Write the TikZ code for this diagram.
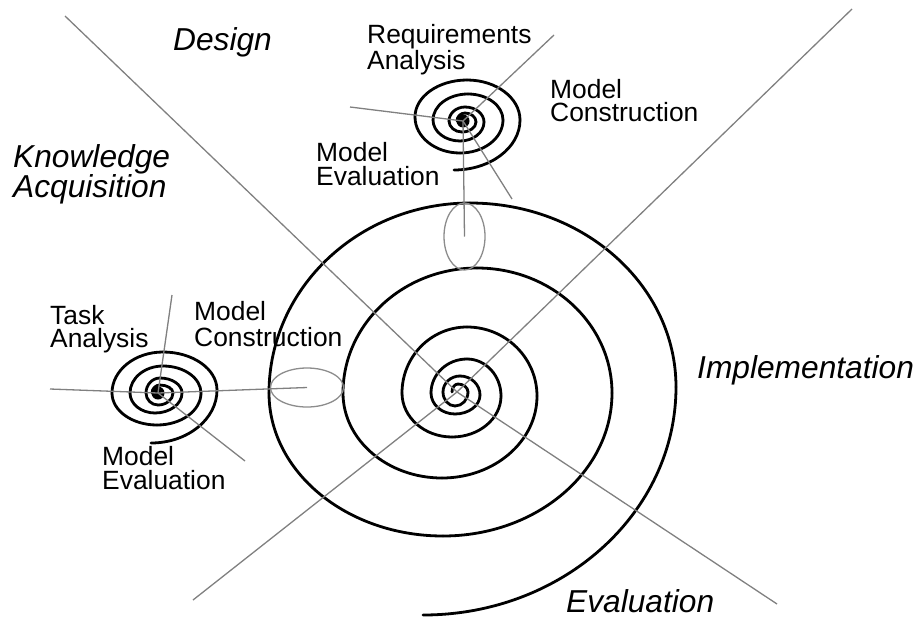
\documentclass[tikz,border=0pt]{standalone}
\usepackage{fontspec}
\setmainfont{Liberation Sans}
\usetikzlibrary{shapes.geometric}
\tikzset{
  coil/.style={draw=black,line width=2.8pt,line cap=round,line join=round},
  ray/.style={draw=black!50,line width=1.3pt},
  loupe/.style={draw=black!45,line width=1.3pt,ellipse,inner sep=0pt},
  hub/.style={circle,fill=black,inner sep=0pt,minimum size=13pt},
  core/.style={circle,inner sep=0pt,minimum size=0pt},
  lab/.style={anchor=base west,inner sep=0pt,align=left,font=\fontsize{26.4}{24}\selectfont},
  phase/.style={anchor=base west,inner sep=0pt,align=left,font=\fontsize{31.7}{30}\selectfont\itshape}
}
\newcommand{\coilpath}[1]{%
  \foreach \cx/\cy [remember=\cx as \px (initially 0), remember=\cy as \py (initially 0), count=\ci] in {#1}{%
    \ifnum\ci>1
      \pgfmathtruncatemacro{\cm}{mod(\ci,2)}%
      \ifnum\cm=0
        \pgfmathsetmacro{\ax}{\px+0.5523*(\cx-\px)}\pgfmathsetmacro{\ay}{\py}%
        \pgfmathsetmacro{\bx}{\cx}\pgfmathsetmacro{\by}{\cy+0.5523*(\py-\cy)}%
      \else
        \pgfmathsetmacro{\ax}{\px}\pgfmathsetmacro{\ay}{\py+0.5523*(\cy-\py)}%
        \pgfmathsetmacro{\bx}{\cx+0.5523*(\px-\cx)}\pgfmathsetmacro{\by}{\cy}%
      \fi
      \draw[coil] (\px,\py) .. controls (\ax,\ay) and (\bx,\by) .. (\cx,\cy);
    \fi
  }%
}
\begin{document}
\begin{tikzpicture}[x=1pt,y=-1pt]
\useasboundingbox (0,0) rectangle (917,616);
% spirals
\coilpath{423/615,676/387,470/203,269/393,443/536,612/393,477/268,343/393,442/478,537/396,467/327,402/393,452/437,501/396,467/359,431/393,455/414,480/395,460/376,443/392,455/406,468/392,458/384,452/392}
\coilpath{454/170,520/120,467/80,415/117,460/153,503/120,468/94,433/120,460/141,484/122,465/107,449/121,462/132,476/122,465/113,457/121}
\coilpath{151/443,217/390,163/352,112/393,157/425,201/393,163/366,130/393,155/413,182/393,160/378,146/393,158/405,173/393,160/385,152/393}
% hubs
\node[core] (c0) at (457,392) {};
\node[hub] (c1) at (463,121) {};
\node[hub] (c2) at (158,393) {};
% magnifier ellipses
\node[loupe,minimum width=41pt,minimum height=67pt] (e1) at (464.5,236.5) {};
\node[loupe,minimum width=73pt,minimum height=39pt] (e2) at (307,387.5) {};
% free ends
\coordinate (m1) at (65,16);
\coordinate (m2) at (852,9);
\coordinate (m3) at (777,604);
\coordinate (m4) at (193,600);
\coordinate (t1) at (350,107);
\coordinate (t2) at (554,35);
\coordinate (t3) at (512,199);
\coordinate (l1) at (50,389);
\coordinate (l2) at (172,295);
\coordinate (l3) at (245,461);
% rays
\draw[ray] (m1) -- (c0.center);
\draw[ray] (m2) -- (c0.center);
\draw[ray] (m3) -- (c0.center);
\draw[ray] (m4) -- (c0.center);
\draw[ray] (t1) -- (c1.center);
\draw[ray] (t2) -- (c1.center);
\draw[ray] (t3) -- (c1.center);
\draw[ray] (e1.center) -- (c1.center);
\draw[ray] (l1) -- (c2.center);
\draw[ray] (l2) -- (c2.center);
\draw[ray] (l3) -- (c2.center);
\draw[ray] (e2.center) -- (c2.center);
% labels
\node[lab] (a1) at (367,69) {Requirements\\Analysis};
\node[lab] (a2) at (550,121) {Model\\[-1.5pt]Construction};
\node[lab] (a3) at (316,185) {Model\\Evaluation};
\node[lab] (a4) at (50,347) {Task\\[-1pt]Analysis};
\node[lab] (a5) at (194,346) {Model\\[1.7pt]Construction};
\node[lab] (a6) at (102,489) {Model\\[-0.3pt]Evaluation};
\node[phase] (p1) at (173,50) {Design};
\node[phase] (p2) at (13,197) {Knowledge\\Acquisition};
\node[phase] (p3) at (697,378) {Implementation};
\node[phase] (p4) at (566,612) {Evaluation};
\end{tikzpicture}
\end{document}
